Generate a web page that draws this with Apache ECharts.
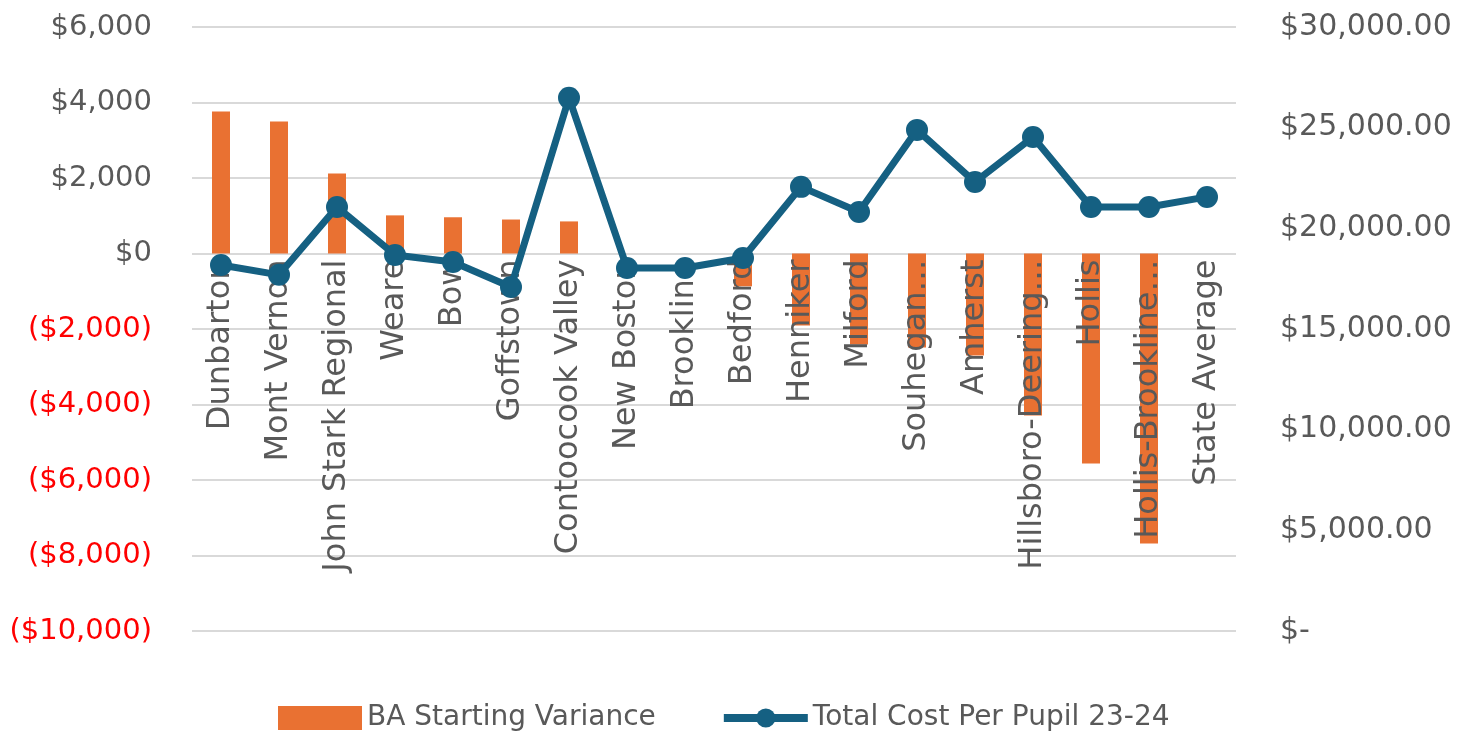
<html>
<head>
<meta charset="utf-8">
<script src="https://cdn.jsdelivr.net/npm/echarts@6/dist/echarts.min.js"></script>
<style>
  html, body, #main { margin: 0; width: 100%; height: 100%; background: #fff; }
</style>
</head>
<body>
<div id="main"></div>
<script>
var districts = ['Dunbarton', 'Mont Vernon', 'John Stark Regional', 'Weare', 'Bow', 'Goffstown',
  'Contoocook Valley', 'New Boston', 'Brookline', 'Bedford', 'Henniker', 'Milford', 'Souhegan…',
  'Amherst', 'Hillsboro-Deering…', 'Hollis', 'Hollis-Brookline…', 'State Average'];
var baVariance = [3760, 3500, 2120, 1010, 960, 900, 850, 0, 0, -870, -1910, -2410, -2490, -2700, -4290, -5560, -7680, 0];
var costPerPupil = [18180, 17690, 21060, 18680, 18330, 17090, 26480, 18030, 18030, 18530, 22060, 20810, 24890, 22300, 24540, 21060, 21060, 21560];

var FONT = 'DejaVu Sans';
var GREY = '#595959';
var ORANGE = '#E97132';
var BLUE = '#156082';

// plot area: top 27, bottom 631, left axis -10000..6000, so $0 sits at 27 + 604 * 6/16
var TOP = 27, BOTTOM = 101;
var zeroY = TOP + (732 - TOP - BOTTOM) * 6000 / 16000;

var chart = echarts.init(document.getElementById('main'));

chart.setOption({
    animation: false,
    textStyle: { fontFamily: FONT },
    grid: [
        { left: 192, right: 223, top: TOP, bottom: BOTTOM, outerBoundsMode: 'none' },
        // second grid only carries the category labels, hanging from the $0 line
        { left: 192, right: 223, top: TOP, bottom: 732 - zeroY, outerBoundsMode: 'none' }
    ],
    legend: {
        top: 699,
        left: 273,
        itemWidth: 84,
        itemHeight: 24,
        itemGap: 64,
        textStyle: { fontSize: 28, color: GREY, fontFamily: FONT },
        data: [
            { name: 'BA Starting Variance', icon: 'rect' },
            { name: 'Total Cost Per Pupil 23-24', lineStyle: { width: 8 } }
        ]
    },
    xAxis: [{
        type: 'category',
        gridIndex: 0,
        data: districts,
        axisLine: { show: false },
        axisTick: { show: false },
        axisLabel: { show: false }
    }, {
        type: 'category',
        gridIndex: 1,
        data: districts,
        z: 2,
        axisLine: { show: false },
        axisTick: { show: false },
        axisLabel: {
            interval: 0,
            rotate: 90,
            margin: 6,
            fontSize: 32,
            color: GREY
        }
    }],
    yAxis: [{
        type: 'value',
        gridIndex: 0,
        min: -10000,
        max: 6000,
        interval: 2000,
        axisLine: { show: false },
        axisTick: { show: false },
        splitLine: { lineStyle: { color: '#d9d9d9', width: 2 } },
        axisLabel: {
            margin: 40,
            fontSize: 29,
            color: function (v) { return v < 0 ? '#ff0000' : GREY; },
            formatter: function (v) {
                var s = '$' + Math.abs(v).toLocaleString('en-US');
                return v < 0 ? '(' + s + ')' : s;
            }
        }
    }, {
        type: 'value',
        gridIndex: 0,
        min: 0,
        max: 30000,
        interval: 5000,
        position: 'right',
        axisLine: { show: false },
        axisTick: { show: false },
        splitLine: { show: false },
        axisLabel: {
            margin: 44,
            fontSize: 30,
            color: GREY,
            formatter: function (v) {
                if (v === 0) return '$-';
                return '$' + v.toLocaleString('en-US', { minimumFractionDigits: 2, maximumFractionDigits: 2 });
            }
        }
    }, {
        type: 'value',
        gridIndex: 1,
        min: 0,
        max: 1,
        show: false
    }],
    series: [{
        name: 'BA Starting Variance',
        type: 'bar',
        z: 1,
        barWidth: 18,
        itemStyle: { color: ORANGE },
        data: baVariance
    }, {
        name: 'Total Cost Per Pupil 23-24',
        type: 'line',
        yAxisIndex: 1,
        z: 3,
        symbol: 'circle',
        symbolSize: 22,
        lineStyle: { color: BLUE, width: 7 },
        itemStyle: { color: BLUE },
        data: costPerPupil
    }]
});
</script>
</body>
</html>
